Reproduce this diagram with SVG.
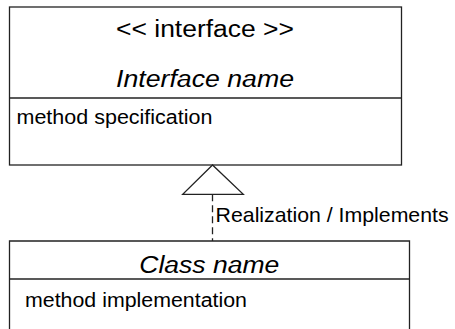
<svg xmlns="http://www.w3.org/2000/svg" width="455" height="329" viewBox="0 0 455 329">
  <style>
    .box { fill: #ffffff; stroke: #222222; stroke-width: 1.3; }
    .line { fill: none; stroke: #222222; stroke-width: 1.3; }
    .dash { fill: none; stroke: #222222; stroke-width: 1.3; stroke-dasharray: 7 4; }
    .tri { fill: #ffffff; stroke: #222222; stroke-width: 1.3; stroke-linejoin: miter; }
    text { font-family: "Liberation Sans", Arial, sans-serif; fill: #000000; }
    .title { font-size: 23px; text-anchor: middle; }
    .ital { font-style: italic; }
    .body { font-size: 19.5px; }
    .label { font-size: 21px; }
  </style>
  <rect x="0" y="0" width="455" height="329" fill="#ffffff"/>
  <g id="interface">
    <rect class="box" x="9.5" y="7" width="392" height="158"/>
    <line class="line" x1="9.5" y1="98" x2="401.5" y2="98"/>
    <text class="title" x="205" y="36.5" textLength="178" lengthAdjust="spacingAndGlyphs">&lt;&lt; interface &gt;&gt;</text>
    <text class="title ital" x="205" y="87" textLength="178" lengthAdjust="spacingAndGlyphs">Interface name</text>
    <text class="body" x="16.5" y="123.5" textLength="196" lengthAdjust="spacingAndGlyphs">method specification</text>
  </g>
  <g id="class">
    <path class="box" d="M9.5,335 L9.5,241 L409.5,241 L409.5,335"/>
    <line class="line" x1="9.5" y1="279" x2="409.5" y2="279"/>
    <text class="title ital" x="209.3" y="272.5" textLength="140" lengthAdjust="spacingAndGlyphs">Class name</text>
    <text class="body" x="25" y="306.5" textLength="222" lengthAdjust="spacingAndGlyphs">method implementation</text>
  </g>
  <g id="connectors">
    <line class="dash" x1="212.5" y1="194.3" x2="212.5" y2="241"/>
    <polygon class="tri" points="212.5,165 182.7,194.3 243.3,194.3"/>
    <text class="label" x="215.6" y="221.7" textLength="233" lengthAdjust="spacingAndGlyphs">Realization / Implements</text>
  </g>
</svg>
